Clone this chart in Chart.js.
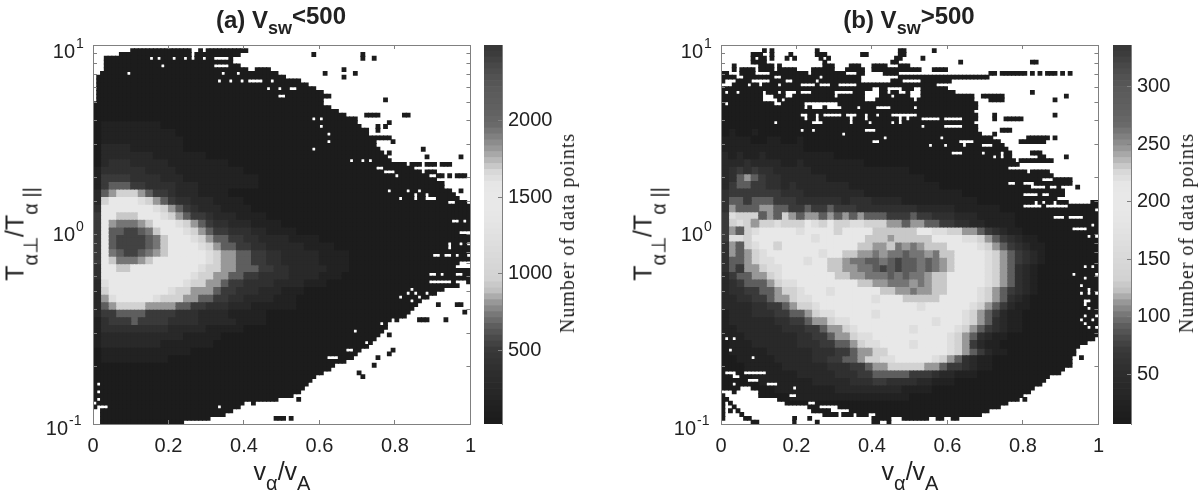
<!DOCTYPE html>
<html>
<head>
<meta charset="utf-8">
<script src="https://cdn.jsdelivr.net/npm/chart.js@4"></script>
<style>
  body { margin: 0; background: #fff; width: 1200px; height: 501px; overflow: hidden; position: relative; }
  canvas { position: absolute; top: 0; }
  .t { position: absolute; white-space: nowrap; color: #222; font-family: "Liberation Sans", sans-serif; transform: translate(-50%, -50%); line-height: 1; }
  .t sub { vertical-align: baseline; position: relative; top: .36em; line-height: 0; }
  .title { font-size: 24px; font-weight: bold; }
  .title sub { font-size: 18px; }
  .title span { position: relative; top: -4px; }
  .lab { font-size: 25px; }
  .lab sub { font-size: 20px; top: .52em; }
  .lab.rot sub { top: .7em; }
  .cb { font-family: "Liberation Serif", serif; font-size: 20px; letter-spacing: 1px; }
  .rot { transform: translate(-50%, -50%) rotate(-90deg); }
</style>
</head>
<body>
<canvas id="mapA" width="490" height="501" style="left:0"></canvas>
<canvas id="barA" width="100" height="501" style="left:484px"></canvas>
<canvas id="mapB" width="490" height="501" style="left:628px"></canvas>
<canvas id="barB" width="80" height="501" style="left:1113px"></canvas>
<div class="t title" style="left:281px;top:20px">(a) V<sub>sw</sub><span>&lt;500</span></div>
<div class="t title" style="left:909px;top:20px">(b) V<sub>sw</sub><span>&gt;500</span></div>
<div class="t lab" style="left:282px;top:471px">v<sub>α</sub>/v<sub>A</sub></div>
<div class="t lab" style="left:910px;top:471px">v<sub>α</sub>/v<sub>A</sub></div>
<div class="t lab rot" style="left:15px;top:234px">T<sub>α⊥</sub>/T<sub>α ||</sub></div>
<div class="t lab rot" style="left:643px;top:234px">T<sub>α⊥</sub>/T<sub>α ||</sub></div>
<div class="t cb rot" style="left:567px;top:233px">Number of data points</div>
<div class="t cb rot" style="left:1186px;top:233px">Number of data points</div>
<script>
// gray levels of the colorbar, bottom to top
const colormap = [0x1c,0x1e,0x20,0x22,0x25,0x27,0x29,0x2b,0x2d,0x30,0x33,0x36,0x3a,0x42,0x4a,0x54,
  0x5e,0x6b,0x78,0x88,0x98,0xac,0xc0,0xc9,0xd2,0xd4,0xd6,0xd8,0xda,0xdc,0xde,0xe0,
  0xe2,0xe4,0xe6,0xe7,0xe8,0xe8,0xe8,0xe7,0xe6,0xdf,0xd8,0xc8,0xb8,0xa8,0x98,0x8c,
  0x80,0x75,0x6a,0x66,0x62,0x60,0x5e,0x5c,0x5a,0x56,0x52,0x4d,0x48,0x42,0x3c,0x38]

const levelNames = 'abcdefghijklmno'
const countsA = [40, 140, 264, 390, 500, 650, 800, 950, 1200, 1500, 1700, 1800, 1950, 2150, 2400]
const countsB = [10, 23, 40, 56, 71, 91, 111, 131, 164, 204, 230, 244, 264, 290, 323]
const rangeA = [16, 2497]
const rangeB = [7, 336]
const barTicksA = [500, 1000, 1500, 2000]
const barTicksB = [50, 100, 150, 200, 250, 300]
const xTicks = [0, 0.2, 0.4, 0.6, 0.8, 1]
const yDecades = [0.1, 1, 10]
const yExponents = ['-1', '0', '1']

// panel (a): counts per 2x2 block of bins, top row first, missing tail = 'a'
const gridA = ['','','','','','','','','','',
  'abbbbbbbba',
  'abbbbbbbbbba',
  'abbbbbbbbbbba',
  'accccbbbbbbba',
  'acccccccbbbbbbb',
  'acdddcccccbbbbbbbb',
  'bddddddccccbbbbbbbbb',
  'beeeeddddcccbbbbbbbbbb',
  'befffeeddddcccbbbbbbbb',
  'cfghhhgfeedcccbbbb',
  'chjjjjihgfeddcccbbbb',
  'djjjjjjjihgfedcccbbbb',
  'ejjkkkjjjihgfeedcccbbbb',
  'ejlmmmlkjjjihgfeddcccbbbb',
  'ejnnoonmkjjjihgfeedddccbbbb',
  'ejnoooonmkjjjihgffeeddccccbbbb',
  'ejnoooonmkjjjjihgffeeddcccccbbbb',
  'ejmnoonmlkjjjjjihggffeeddcccccbbbb',
  'ejkmmmlkjjjjjjjihggffeeddcccccbbbb',
  'djjkkjjjjjjjjjihhggfffeeddcccccbbb',
  'djjjjjjjjjjjjihhggffeeddddccccbbb',
  'cijjjjjjjjjjihhggfeeddddccccbbb',
  'chjjjjjjjjihhgggfeedddcccbbb',
  'cgijjjjjihhhggffeeddccccbbb',
  'cfghhhhggggffeedddcccbbbbbb',
  'ceeffffeeeedddccccbbbbb',
  'bdeeefeeeeddddcccccbbbb',
  'bdddddddddcccccbbbbb',
  'bcccccccccccbbbbb',
  'bccccccccbbbbbbb',
  'abbbbbbbbbbbb',
  'abbbbbbbbb',
  '','','','','','','','']

// first and last filled bin of each of the 100 rows
const startA = [100,10,7,3,3,3,3,2,1,1,
  1,1,1,1,1,0,0,0,0,0,
  0,0,0,0,0,0,0,0,0,0,
  0,0,0,0,0,0,0,0,0,0,
  0,0,0,0,0,0,0,0,0,0,
  0,0,0,0,0,0,0,0,0,0,
  0,0,0,0,0,0,0,0,0,0,
  0,0,0,0,0,0,0,0,0,0,
  0,0,0,0,0,0,0,0,0,0,
  0,0,0,0,0,0,0,2,2,2]
const endA = [-1,40,38,36,38,42,46,48,50,54,
  56,58,60,62,60,60,62,64,66,68,
  69,70,72,72,72,74,74,75,76,77,
  78,82,84,86,88,90,92,92,92,95,
  96,98,99,99,99,99,99,99,99,99,
  99,99,99,99,99,99,99,99,99,99,
  99,99,99,96,92,90,88,86,85,84,
  83,82,80,78,77,76,75,74,73,72,
  70,69,68,66,64,62,60,58,57,56,
  55,54,52,48,42,38,36,34,30,23]
// empty bins inside the filled area: [row, from, to]
const holesA = [[1,26,27],[1,29,29],[2,5,6],[2,26,26],[3,15,15],[3,17,17],[3,21,21],[3,24,24],[3,26,26],[3,29,29],[3,32,35],[3,37,44],
  [4,37,44],[5,18,18],[5,32,35],[5,39,43],[6,41,42],[7,9,9],[7,34,34],[7,38,38],[9,33,33],[9,36,36],[9,39,39],[9,41,44],[9,47,47],
  [11,46,46],[11,49,49],[11,52,53],[13,49,50],[19,58,58],[19,60,60],[21,60,60],[23,62,62],[25,62,62],[27,58,58],[30,68,68],[30,71,71],[30,73,73],
  [32,75,76],[33,77,79],[34,80,80],[38,78,78],[38,83,83],[38,86,86],[39,85,85],[39,88,88],[40,81,81],[40,85,85],[40,88,90],[41,94,95],
  [46,95,96],[46,98,98],[49,97,99],[52,94,94],[52,97,97],[52,99,99],[53,94,94],[55,90,91],[55,93,94],[55,96,96],[55,99,99],[57,97,99],[58,96,99],
  [60,89,90],[60,92,92],[60,96,97],[62,89,94],[62,96,98],[64,84,84],[65,83,83],[65,85,85],[65,88,88],[66,81,81],[66,86,86],[67,84,84],[67,87,87],
  [72,79,79],[73,76,76],[73,78,78],[75,69,69],[78,72,72],[80,67,68],[82,62,64],[84,64,64],
  [89,1,1],[91,1,1],[93,1,1],[94,0,0],[95,1,3],[96,0,1],[92,53,54],[94,40,41],[95,33,33]]
// filled bins outside it: [row, from, to]
const islandsA = [[2,58,58],[2,71,71],[3,71,71],[3,74,74],[6,66,66],[7,61,61],[7,69,69],[8,66,66],[14,77,77],[18,72,75],[18,82,83],[19,66,69],
  [20,78,78],[21,75,75],[21,77,77],[22,70,70],[22,75,75],[24,72,78],[25,79,79],[27,87,87],[28,78,78],[29,88,88],[29,97,97],[31,84,86],[31,88,90],[31,92,94],
  [33,84,84],[33,88,90],[34,91,92],[34,94,94],[34,96,98],[38,93,94],[38,97,97],
  [68,91,91],[68,96,97],[70,98,98],[72,86,88],[72,93,93],[76,78,78],[80,79,79],[81,78,78],[82,75,75],[84,74,74],[86,70,70],[87,71,71],[98,48,50],[98,52,52],[93,54,54]]

// panel (b)
const gridB = ['','','','','','','','','','','',
  'abaabaa',
  'bbbbaabbaab',
  'bbbbbbbbbbbaaa',
  'cbcbbcbbbbbbbbba',
  'cccdccccbbcbbbbbbbbaa',
  'cdededdcccccbbbbbbbbbbbbba',
  'cdfgfeddccccccbbbbbbbbbbbbba',
  'ceffeeddcdcccccccbbbbbbbbbbbb',
  'deeeeeeedddccccccccbbbbbbbbbbbbb',
  'dffefffeeeddddddcdddccccbbbbbbbbbb',
  'dgfffggffeefeefeeeddddddddcccccbbbbbb',
  'eihhhfgfhgfggfgfgfgfffeeefeedddcccbbbbb',
  'ehihghhihhhjihjhhiihhhggfggffeeddccbbbb',
  'egfhijjjjjijjjjhjjjjkkkkkkjjiihhggfedcbb',
  'eiihjjjjjjjjijjjjjjkkklkkkkkjjjjiihgfedcbb',
  'dgfhijjhjjjjjjjjjjkkllkmlmlkkkjjjjihgfedcbb',
  'dgfghijjjjjjjijjkkllmlmmnmmlmkkjjjjihgfedcb',
  'dffghiijjjjijjkklmmnnmnonnmnmlkjjjjihgfedcb',
  'dfegghiijjjjjjkkllmmnononnmnmlkjjjjihgfdcb',
  'ceffgghijjjjjjjkkllmmmnmnmmlkkjjjjjihgfdcb',
  'cdefffghiijjjjjjjjkkllmmmlmlkkjjjjjihgfdcb',
  'cddeeffghhijjjijjjjjjkkllmllkkjjjjihgfedcb',
  'ccddeefgghiijjjjjjjjijjjkkkkkjjjjjihgfdcb',
  'ccccddeefghhijjjjjjjjjjjjjijjjjjjihgfecbb',
  'bcccdddeeffghiijjjjjijjjjjjjjjjjihgfecbb',
  'bccccccddeefgghiijjjjjjjjjjjijjjihgfdcbb',
  'bbccccccdddeefgghijjjjjjjijjjjjihgfedcbb',
  'bbbcccccccddeefgghiijjjjjjjjjjihgfdcbb',
  'abbbccccccdddeeffghiijjjjijjjjihgecbb',
  'abbbbbccccccdddeefgghhjjjjjjjjihgfecbba',
  'aabbbbbcccccddeeffghhiijjjjjihgfdcbba',
  'aaabbbbbccccccdddeefgghhhhhggfeedcbba',
  'aaaabbbbbbcccccdddeefffffeeedccbbba',
  'aaaaabbbbbbbcccccdddeeddddccbbbaa',
  'aaaaaaabbbbbbbbcccccccccbbbbaa',
  'aaaaaaaaabbbbbbbbbbbbbbbbaa',
  '','','']

const startB = [100,100,100,100,100,100,100,100,100,0,
  0,0,0,0,0,0,0,0,0,0,
  0,0,0,0,0,0,0,0,0,0,
  0,0,0,0,0,0,0,0,0,0,
  0,0,0,0,0,0,0,0,0,0,
  0,0,0,0,0,0,0,0,0,0,
  0,0,0,0,0,0,0,0,0,0,
  0,0,0,0,0,0,0,0,0,0,
  0,0,0,0,0,0,0,0,0,0,
  0,3,10,15,17,23,24,27,40,100]
const endB = [-1,-1,-1,-1,-1,-1,-1,-1,-1,60,
  56,59,61,62,66,67,67,66,67,67,
  66,67,67,68,71,73,74,75,76,76,
  77,78,78,80,82,84,89,89,90,90,
  88,87,87,98,99,99,99,99,99,99,
  99,99,99,99,99,99,99,99,99,99,
  99,99,99,99,99,99,99,99,99,99,
  99,99,99,99,99,99,99,98,96,94,
  93,93,92,92,91,90,89,86,85,84,
  82,81,79,78,75,73,70,68,62,-1]
const holesB = [[9,1,3],[9,8,12],[9,17,18],[9,25,25],[9,37,44],[9,48,52],
  [10,0,2],[10,7,7],[10,10,10],[10,15,15],[10,21,24],[10,26,28],[10,31,35],[11,40,41],[11,44,47],[11,51,52],
  [12,1,1],[12,4,4],[12,11,11],[12,15,15],[12,17,19],[12,21,23],[12,30,34],[12,38,41],[12,44,44],[12,47,48],[12,50,52],
  [13,11,13],[13,17,18],[13,30,30],[13,38,41],[13,45,45],[13,50,52],[14,11,14],[14,16,16],[14,38,40],[14,51,51],
  [15,1,1],[15,14,15],[15,22,26],[15,27,30],[16,22,22],[16,24,26],[16,28,31],[16,36,36],[16,41,44],[16,51,51],
  [18,21,22],[18,25,25],[18,27,31],[18,33,35],[18,38,38],[18,41,41],[18,45,47],[18,49,51],[18,48,49],
  [19,22,22],[19,25,25],[19,34,34],[19,38,38],[19,47,47],[19,49,49],[19,53,57],[19,59,63],
  [20,14,14],[20,24,26],[20,34,34],[20,39,39],[20,45,45],[20,47,47],[21,53,53],[21,59,63],
  [22,21,21],[22,24,24],[22,38,40],[23,32,32],[24,43,43],[24,58,58],[25,40,41],[25,63,66],
  [26,55,55],[26,59,59],[26,64,64],[26,69,71],[28,61,63],[28,69,69],[28,74,74],[29,72,72],[29,74,74],[32,76,78],
  [36,76,77],[36,80,82],[37,82,85],[37,87,88],[39,80,83],[39,85,86],[41,83,83],[41,85,85],[42,80,84],[42,86,87],
  [45,88,90],[45,92,95],[48,93,96],[47,98,98],[50,97,97],[50,99,99],
  [58,96,96],[58,98,98],[60,93,93],[60,99,99],[61,96,96],[63,95,95],[64,97,97],[65,95,95],[65,97,97],[65,99,99],
  [67,96,97],[68,96,96],[69,97,97],[71,96,96],[71,99,99],[72,95,95],[72,98,98],[73,96,96],[74,97,97],[74,99,99],
  [77,1,1],[77,3,3],[80,2,2],[82,8,8],[86,1,3],[86,6,11],[87,3,4],[88,7,9],[89,3,3],[89,12,14],[90,19,19],[90,5,7],
  [91,4,9],[92,18,19],[94,23,24],[95,26,30],[96,29,33],[97,31,31],[97,35,35],[97,39,40],[98,45,47],[98,55,56],[98,59,60]]
const islandsB = [[1,11,11],[1,13,13],[1,25,25],[1,47,48],[1,56,56],
  [2,8,10],[2,13,13],[2,18,18],[2,25,27],[2,37,38],[2,47,48],
  [3,8,8],[3,10,11],[3,13,13],[3,17,17],[3,19,19],[3,26,26],[3,28,28],[3,46,47],[3,53,53],
  [4,8,11],[4,27,27],[4,45,46],[4,63,63],[4,82,83],
  [5,3,3],[5,10,13],[5,15,15],[5,27,29],[5,34,36],[5,40,43],[5,47,49],
  [6,3,3],[6,5,8],[6,10,13],[6,15,19],[6,24,29],[6,33,37],[6,40,52],[6,56,59],
  [7,0,1],[7,5,8],[7,13,22],[7,24,32],[7,36,37],[7,43,46],[7,71,72],[7,74,78],[7,79,80],[7,82,82],[7,84,84],[7,86,88],[7,90,90],[7,92,92],
  [8,0,3],[8,6,13],[8,16,25],[8,27,36],[8,47,70],[8,47,58],
  [12,82,82],[13,63,66],[13,69,74],[13,91,91],[14,71,74],[14,88,88],[18,72,72],[18,88,88],[19,72,72],[19,75,79],
  [22,74,76],[23,72,72],[24,81,86],[24,88,88],[25,79,85],[28,82,84],[29,84,85],[29,91,91],[30,79,87],
  [33,82,86],[34,81,87],[35,88,92],[36,90,92],[37,94,94],[41,89,91],[41,98,99],[42,92,99],
  [92,0,0],[93,0,1],[94,0,0],[94,2,2],[95,0,0],[95,3,3],[96,0,0],[96,2,2],[96,4,4],[97,0,0],[97,5,5],[98,0,0],[98,6,7],[99,8,9],
  [98,19,19],[99,19,19],[98,23,23],[99,25,25],[99,40,41],[99,44,44],[76,96,96],[80,90,91],[82,95,95],[84,92,92],[86,87,88],[89,80,82],[90,78,78],[93,80,80],[95,60,62]]

function gray (g) {
  return `rgb(${g},${g},${g})`
}

function colorFor (value, range) {
  const i = Math.floor((value - range[0]) / (range[1] - range[0]) * colormap.length)
  return gray(colormap[Math.min(colormap.length - 1, Math.max(0, i))])
}

function inRanges (list, r, c) {
  return list.some(s => s[0] === r && c >= s[1] && c <= s[2])
}

function datasetsFor (grid, start, end, holes, islands, counts, range) {
  const byLevel = levelNames.split('').map(() => [])
  for (let r = 0; r < 100; r++) {
    const row = grid[r >> 1]
    for (let c = 0; c < 100; c++) {
      const filled = (c >= start[r] && c <= end[r] && !inRanges(holes, r, c)) || inRanges(islands, r, c)
      if (!filled) continue
      const level = Math.max(0, levelNames.indexOf(row[c >> 1]))
      byLevel[level].push({ x: (c + 0.5) / 100, y: Math.pow(10, 1 - (r + 0.5) / 50) })
    }
  }
  return byLevel.map((data, i) => ({
    data,
    pointStyle: 'rect',
    pointRadius: 3.4, // a little oversized so no white shows between cells
    pointBorderWidth: 0,
    pointBackgroundColor: colorFor(counts[i], range),
    showLine: false
  }))
}

const axisGray = '#808080'
const tickFont = { family: '"Liberation Sans", sans-serif', size: 20 }

// 10 with a raised exponent, the way the decade labels sit on the reference
const decadeLabels = {
  id: 'decadeLabels',
  afterDraw (chart) {
    const { ctx } = chart
    const scale = chart.scales.y
    ctx.save()
    ctx.fillStyle = '#222'
    ctx.textBaseline = 'middle'
    yDecades.forEach((v, i) => {
      const y = scale.getPixelForValue(v)
      const low = i === 0
      const drop = i === 2 ? 6 : i === 1 ? 0 : 4
      const right = low ? 68 : 75
      ctx.font = '20px "Liberation Sans", sans-serif'
      ctx.textAlign = 'right'
      ctx.fillText('10', right, y + drop + 1)
      ctx.font = '14px "Liberation Sans", sans-serif'
      ctx.textAlign = 'left'
      ctx.fillText(yExponents[i], right + 1, y + drop - 7)
    })
    ctx.restore()
  }
}

function mapChart (id, datasets) {
  const fixWidth = w => s => { s.width = w }
  const fixHeight = h => s => { s.height = h }
  const setXTicks = s => { s.ticks = xTicks.map(value => ({ value })) }
  const frame = { color: axisGray, z: 1 }
  const marks = { drawOnChartArea: false, tickLength: -4, tickColor: axisGray, z: 1 }
  new Chart(document.getElementById(id), {
    type: 'scatter',
    data: { datasets },
    plugins: [decadeLabels],
    options: {
      responsive: false,
      animation: false,
      events: [],
      plugins: { legend: { display: false }, tooltip: { enabled: false } },
      layout: { padding: 0 },
      scales: {
        x: {
          type: 'linear', position: 'bottom', min: 0, max: 1,
          afterBuildTicks: setXTicks, afterFit: fixHeight(77),
          border: frame, grid: marks,
          ticks: { font: tickFont, color: '#222', padding: 14, maxRotation: 0, callback: v => String(v) }
        },
        x2: {
          type: 'linear', position: 'top', min: 0, max: 1,
          afterBuildTicks: setXTicks, afterFit: fixHeight(45),
          border: frame, grid: marks, ticks: { display: false }
        },
        y: {
          type: 'logarithmic', position: 'left', min: 0.1, max: 10,
          afterFit: fixWidth(93),
          border: frame, grid: marks, ticks: { display: false, autoSkip: false }
        },
        y2: {
          type: 'logarithmic', position: 'right', min: 0.1, max: 10,
          afterFit: fixWidth(10),
          border: frame, grid: marks, ticks: { display: false, autoSkip: false }
        }
      }
    }
  })
}

function barChart (id, range, barTicks, rightSpace) {
  const datasets = colormap.map((g, i) => {
    const span = range[1] - range[0]
    return {
      data: [[range[0] + span * i / colormap.length, range[0] + span * (i + 1) / colormap.length]],
      backgroundColor: gray(g),
      barPercentage: 1,
      categoryPercentage: 1,
      grouped: false
    }
  })
  new Chart(document.getElementById(id), {
    type: 'bar',
    data: { labels: [''], datasets },
    options: {
      responsive: false,
      animation: false,
      events: [],
      plugins: { legend: { display: false }, tooltip: { enabled: false } },
      layout: { padding: { top: 45, bottom: 77 } },
      scales: {
        x: { display: false },
        y: {
          position: 'right', min: range[0], max: range[1],
          afterBuildTicks: s => { s.ticks = barTicks.map(value => ({ value })) },
          afterFit: s => { s.width = rightSpace },
          border: { color: axisGray, z: 1 },
          grid: { drawOnChartArea: false, tickLength: -4, tickColor: axisGray, z: 1 },
          ticks: { font: tickFont, color: '#222', padding: 10, callback: v => String(v) }
        }
      }
    }
  })
}

mapChart('mapA', datasetsFor(gridA, startA, endA, holesA, islandsA, countsA, rangeA))
mapChart('mapB', datasetsFor(gridB, startB, endB, holesB, islandsB, countsB, rangeB))
barChart('barA', rangeA, barTicksA, 82)
barChart('barB', rangeB, barTicksB, 62)
</script>
</body>
</html>
